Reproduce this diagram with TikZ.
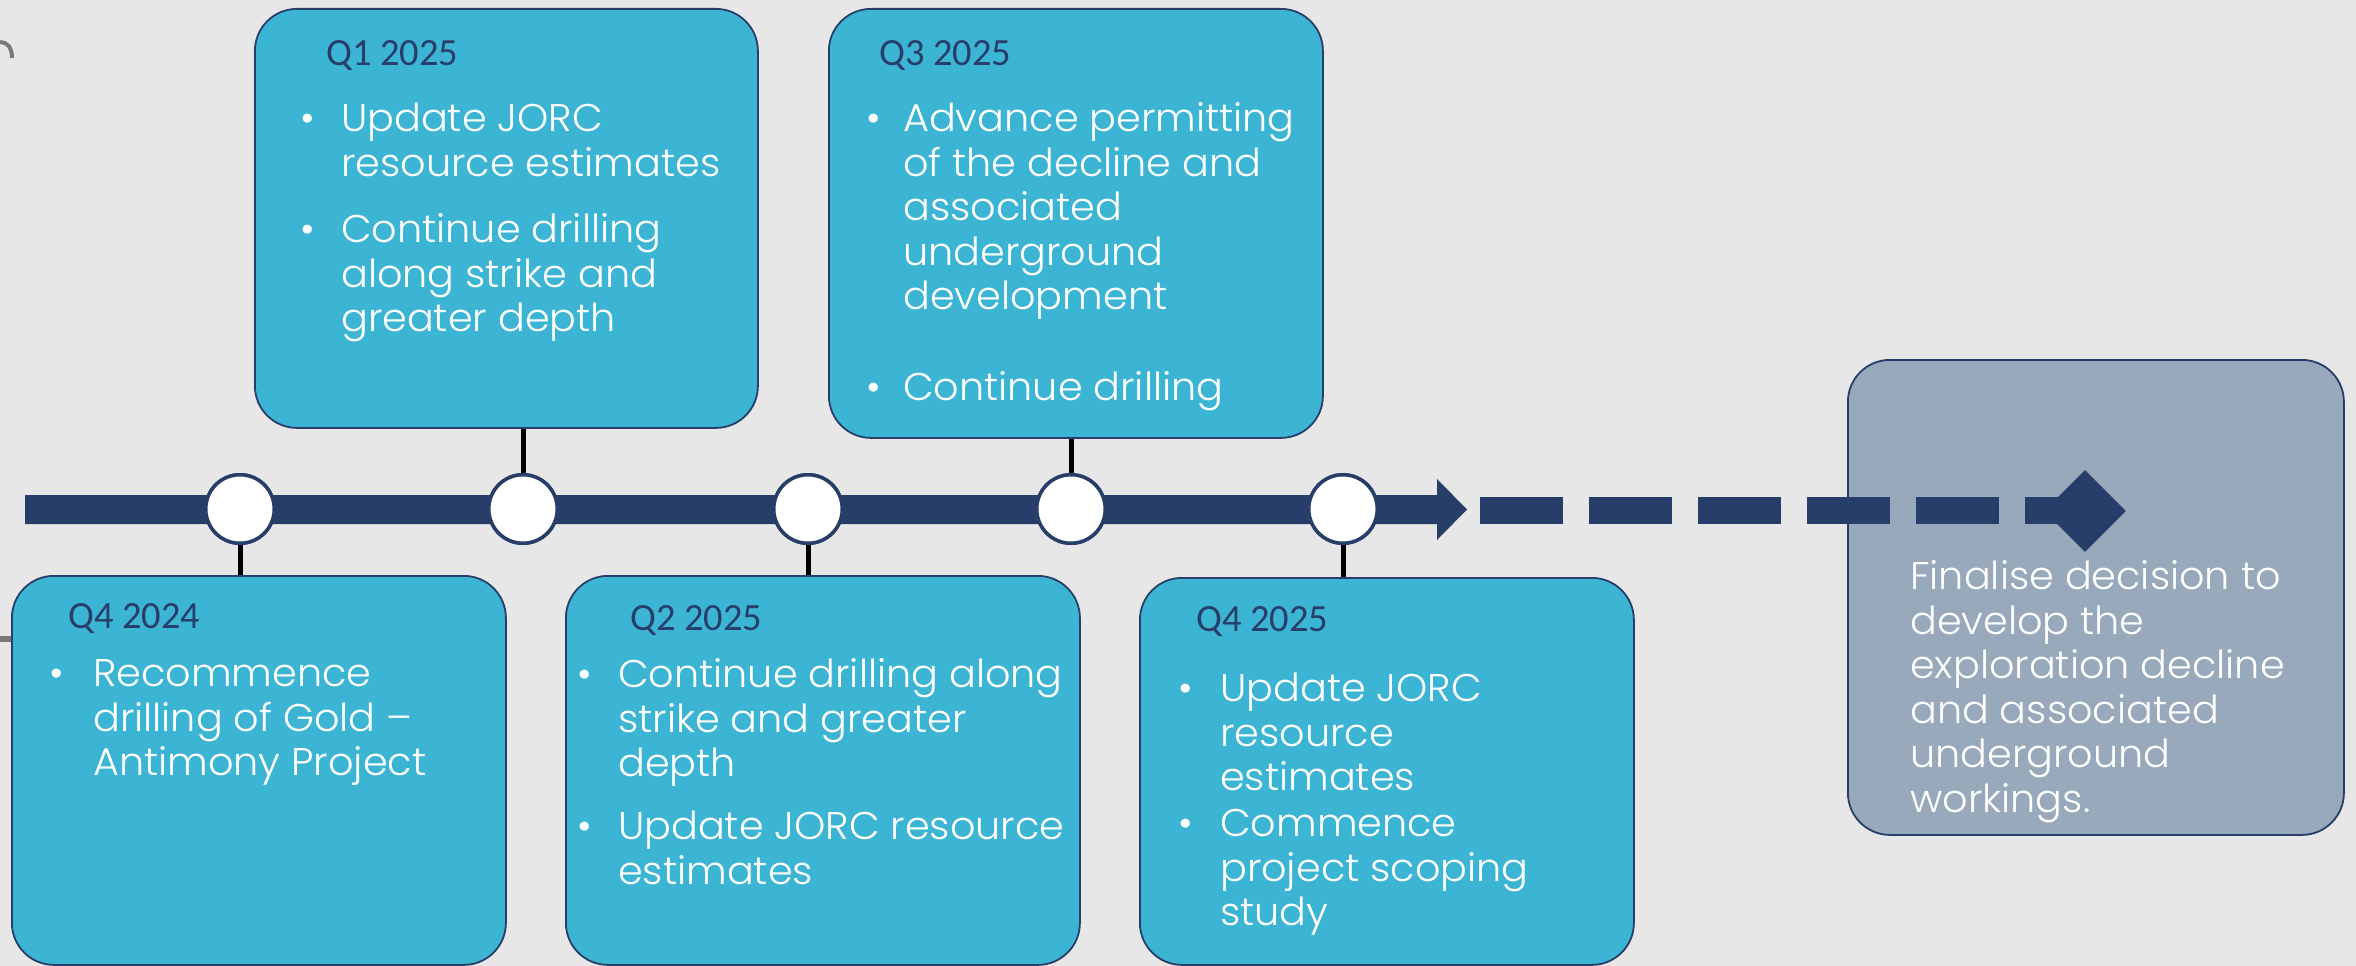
\documentclass[tikz,border=0pt]{standalone}
\usepackage{fontspec}
\usetikzlibrary{calc,shapes.geometric}
\newfontfamily\bodyfont{Poppins Light}[FakeStretch=1.03]
\newfontfamily\titlefont{Carlito}
\definecolor{bg}{HTML}{E7E7E7}
\definecolor{navy}{HTML}{283E6A}
\definecolor{cyanbox}{HTML}{3CB5D4}
\definecolor{graybox}{HTML}{97A9BA}
\definecolor{frag}{HTML}{7A7A7A}
\begin{document}
\begin{tikzpicture}[x=1pt,y=-1pt,
  cbox/.style={draw=navy, line width=1.8pt, fill=cyanbox, rounded corners=42pt, inner sep=0pt, anchor=north west},
  gbox/.style={draw=navy, line width=1.8pt, fill=graybox, rounded corners=42pt, inner sep=0pt, anchor=north west},
  circ/.style={circle, draw=navy, line width=3.5pt, fill=white, minimum size=68.5pt, inner sep=0pt},
  stem/.style={draw=black, line width=5pt},
  ttl/.style={anchor=north west, inner sep=0pt, text=navy, font=\titlefont\fontsize{38.5}{46}\selectfont},
  itm/.style={anchor=north west, inner sep=0pt, align=left, text=white, yshift=-3pt, font=\bodyfont\fontsize{38.6}{44.6}\selectfont},
  bul/.style={anchor=north, inner sep=0pt, text=white, yshift=-3pt, font=\bodyfont\fontsize{38.6}{44.6}\selectfont},
  bar/.style={fill=navy}
]
\useasboundingbox (0,0) rectangle (2356,966);
\fill[bg] (0,0) rectangle (2356,966);

% cut-off fragments at the left edge
\draw[frag, line width=4pt] (0,42) .. controls (7,42) and (12,47) .. (12,58);
\fill[frag] (0,636) rectangle (12,642);

% boxes
\node[cbox, minimum width=503pt, minimum height=419pt] (q1box) at (254,8) {};
\node[cbox, minimum width=494pt, minimum height=429pt] (q3box) at (828,8) {};
\node[cbox, minimum width=494pt, minimum height=389pt] (q424box) at (11,575) {};
\node[cbox, minimum width=514pt, minimum height=389pt] (q2box) at (565,575) {};
\node[cbox, minimum width=494pt, minimum height=387pt] (q425box) at (1139,577) {};
\node[gbox, minimum width=496pt, minimum height=475pt] (finbox) at (1847,359) {};

% timeline bar with arrow head
\coordinate (barstart) at (25,509.5);
\coordinate (arrowtip) at (1467,509.5);
\fill[bar] (barstart) ++(0,-14.5) -- (1437,495) -- (1437,479) -- (arrowtip) -- (1437,540) -- (1437,524) -- (25,524) -- cycle;

% dashed continuation
\foreach \xs in {1480,1589,1698,1807,1916}{
  \fill[bar] (\xs,497) rectangle ++(83,27);
}
\fill[bar] (2025,497) rectangle (2062,524);
\node[diamond, fill=navy, inner sep=0pt, minimum width=82pt, minimum height=82pt] (goal) at (2085,511) {};

% milestone circles
\node[circ] (c1) at (240,509) {};
\node[circ] (c2) at (523,509) {};
\node[circ] (c3) at (808,509) {};
\node[circ] (c4) at (1071,509) {};
\node[circ] (c5) at (1343,509) {};

% stems
\draw[stem] (c1.south) -- (c1.south |- q424box.north);
\draw[stem] (c2.north) -- (c2.north |- q1box.south);
\draw[stem] (c3.south) -- (c3.south |- q2box.north);
\draw[stem] (c4.north) -- (c4.north |- q3box.south);
\draw[stem] (c5.south) -- (c5.south |- q425box.north);
\node[circ] at (c1) {};
\node[circ] at (c2) {};
\node[circ] at (c3) {};
\node[circ] at (c4) {};
\node[circ] at (c5) {};

% Q1 2025
\node[ttl] (t1) at (326,33) {\strut Q1 2025};
\node[bul] (b1a) at (308,97) {\strut •};
\node[itm] (i1a) at (341,97) {\strut Update JORC\\resource estimates};
\node[bul] (b1b) at (308,208) {\strut •};
\node[itm] (i1b) at (341,208) {\strut Continue drilling\\along strike and\\greater depth};

% Q3 2025
\node[ttl] (t3) at (879,33) {\strut Q3 2025};
\node[bul] (b3a) at (874,97) {\strut •};
\node[itm] (i3a) at (903,97) {\strut Advance permitting\\of the decline and\\associated\\underground\\development};
\node[bul] (b3b) at (874,366) {\strut •};
\node[itm] (i3b) at (903,366) {\strut Continue drilling};

% Q4 2024
\node[ttl] (t0) at (68,596) {\strut Q4 2024};
\node[bul] (b0a) at (57,652) {\strut •};
\node[itm] (i0a) at (93,652) {\strut Recommence\\drilling of Gold –\\Antimony Project};

% Q2 2025
\node[ttl] (t2) at (630,598) {\strut Q2 2025};
\node[bul] (b2a) at (585,653) {\strut •};
\node[itm] (i2a) at (618,653) {\strut Continue drilling along\\strike and greater\\depth};
\node[bul] (b2b) at (585,805) {\strut •};
\node[itm] (i2b) at (618,805) {\strut Update JORC resource\\estimates};

% Q4 2025
\node[ttl] (t4) at (1196,599) {\strut Q4 2025};
\node[bul] (b4a) at (1186,667) {\strut •};
\node[itm] (i4a) at (1220,667) {\strut Update JORC\\resource\\estimates};
\node[bul] (b4b) at (1186,802) {\strut •};
\node[itm] (i4b) at (1220,802) {\strut Commence\\project scoping\\study};

% final decision
\node[itm] (fin) at (1910,555) {\strut Finalise decision to\\develop the\\exploration decline\\and associated\\underground\\workings.};
\end{tikzpicture}
\end{document}
